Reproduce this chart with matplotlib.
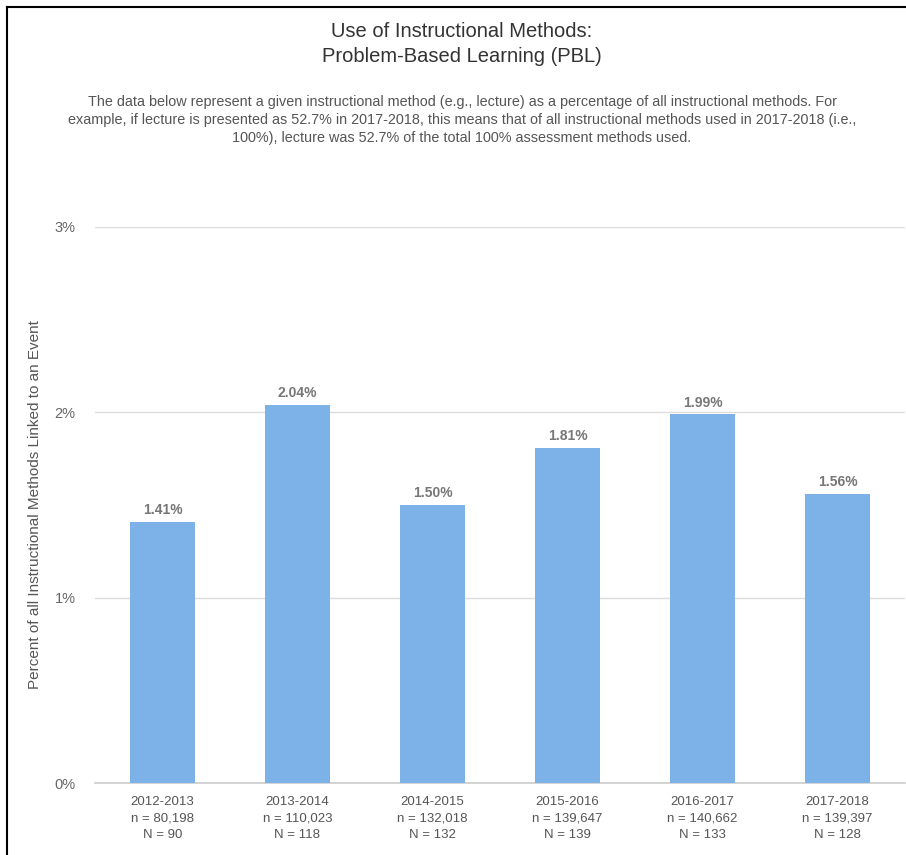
import matplotlib.pyplot as plt
from matplotlib.lines import Line2D

plt.rcParams['font.family'] = ['Liberation Sans', 'DejaVu Sans']

years = ['2012-2013', '2013-2014', '2014-2015', '2015-2016', '2016-2017', '2017-2018']
n_events = ['80,198', '110,023', '132,018', '139,647', '140,662', '139,397']
n_schools = [90, 118, 132, 139, 133, 128]
pbl_pct = [1.41, 2.04, 1.50, 1.81, 1.99, 1.56]

labels = [f'{y}\nn = {n}\nN = {N}' for y, n, N in zip(years, n_events, n_schools)]

fig = plt.figure(figsize=(9.06, 8.55), dpi=100)
ax = fig.add_axes([95 / 906, 72 / 855, 810 / 906, 556 / 855])

x = range(len(years))
bars = ax.bar(x, pbl_pct, width=0.475, color='#7cb2e8', zorder=3)
for b, v in zip(bars, pbl_pct):
    ax.text(b.get_x() + b.get_width() / 2, v + 0.025, f'{v:.2f}%',
            ha='center', va='bottom', fontsize=10, fontweight='bold', color='#777777')

ax.set_xlim(-0.5, len(years) - 0.5)
ax.set_ylim(0, 3)
ax.set_yticks([0, 1, 2, 3])
ax.set_yticklabels(['0%', '1%', '2%', '3%'])
ax.set_xticks(list(x))
ax.set_xticklabels(labels, linespacing=1.55)
ax.tick_params(axis='y', length=0, pad=14, labelsize=10.5, labelcolor='#666666')
ax.tick_params(axis='x', length=0, pad=9, labelsize=9.5, labelcolor='#555555')
ax.grid(axis='y', color='#dddddd', linewidth=1, zorder=0)
for s in ['top', 'right', 'left']:
    ax.spines[s].set_visible(False)
ax.spines['bottom'].set_color('#cccccc')
ax.spines['bottom'].set_linewidth(1.2)

ax.set_ylabel('Percent of all Instructional Methods Linked to an Event',
              fontsize=11, color='#555555')
ax.yaxis.set_label_coords(-0.066, 0.5)

fig.text(0.51, 1 - 44 / 855, 'Use of Instructional Methods:\nProblem-Based Learning (PBL)',
         ha='center', va='center', fontsize=14.5, color='#333333', linespacing=1.45)
fig.text(0.51, 1 - 120 / 855,
         'The data below represent a given instructional method (e.g., lecture) as a percentage of all '
         'instructional methods. For\nexample, if lecture is presented as 52.7% in 2017-2018, this means '
         'that of all instructional methods used in 2017-2018 (i.e.,\n100%), lecture was 52.7% of the '
         'total 100% assessment methods used.',
         ha='center', va='center', fontsize=10.4, color='#555555', linespacing=1.4)

# frame lines along the top and left edges
fig.add_artist(Line2D([7 / 906, 1], [1 - 7.5 / 855, 1 - 7.5 / 855], color='black', lw=1.5))
fig.add_artist(Line2D([7 / 906, 7 / 906], [0, 1 - 7.5 / 855], color='black', lw=1.5))

fig.savefig('out.png', dpi=100)
